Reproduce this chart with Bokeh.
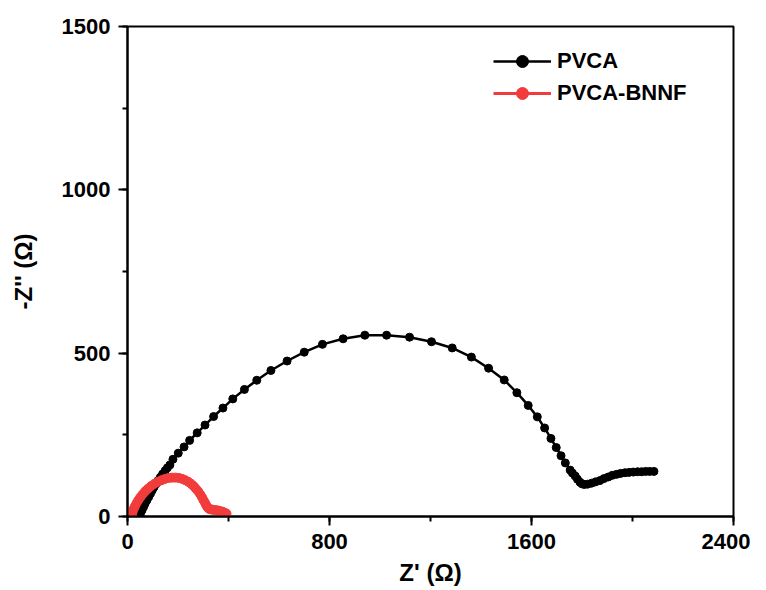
from bokeh.plotting import figure
from bokeh.models import Range1d, SingleIntervalTicker, Legend, LegendItem
from bokeh.embed import file_html
from bokeh.resources import INLINE

# PVCA (black)
pvca_x = [45, 52, 58, 64, 70, 77, 84, 91, 98, 105, 113, 121, 130, 139, 149, 158, 168, 180,
          201, 224, 246, 276, 307, 341, 378, 417, 463, 512, 568, 632, 700, 772, 854, 940,
          1026, 1117, 1204, 1286, 1362, 1430, 1492, 1542, 1587, 1623, 1652, 1677, 1698, 1717,
          1734, 1753, 1762, 1773, 1782, 1792, 1800, 1809, 1822, 1838, 1854, 1871, 1887, 1904,
          1920, 1937, 1953, 1970, 1986, 2003, 2020, 2036, 2052, 2068, 2085]
pvca_y = [0, 10, 20, 30, 40, 50, 60, 70, 80, 90, 100, 110, 120, 130, 140, 149, 158, 175,
          194, 213, 233, 256, 280, 306, 332, 360, 389, 417, 447, 476, 503, 527, 544, 555,
          555, 549, 535, 516, 488, 454, 418, 379, 340, 305, 271, 239, 211, 186,
          164, 142, 133, 124, 114, 105, 100, 98, 99, 102, 106, 110, 116, 121,
          126, 129, 132, 134, 135, 136, 137, 137, 138, 138, 138]

# PVCA-BNNF (red)
bnnf_x = [16, 18, 21, 25, 30, 36, 43, 51, 60, 70, 81, 93, 106, 120, 134, 148, 162, 176, 190,
          204, 217, 229, 241, 252, 262, 271, 280, 288, 295, 301, 307, 312, 317, 322, 328, 336,
          345, 355, 365, 375, 384, 392]
bnnf_y = [0, 8, 16, 24, 32, 41, 50, 59, 68, 77, 85, 93, 100, 106, 111, 115, 118, 119, 119,
          118, 115, 111, 106, 100, 93, 85, 77, 68, 59, 50, 42, 34, 28, 24, 22, 21,
          20, 19, 17, 15, 12, 9]

series_names = ["PVCA", "PVCA-BNNF"]
x_ticks = [0, 800, 1600, 2400]
y_ticks = [0, 500, 1000, 1500]

RED = "#F23C3C"
FONT = "Liberation Sans"

p = figure(width=750, height=588, output_backend="svg", toolbar_location=None,
           x_range=Range1d(x_ticks[0], x_ticks[-1]), y_range=Range1d(y_ticks[0], y_ticks[-1]),
           min_border_left=127, min_border_right=17, min_border_top=26, min_border_bottom=72)
p.grid.visible = False
p.outline_line_color = "black"
p.outline_line_width = 2
p.background_fill_color = "white"
p.border_fill_color = "white"

l1 = p.line(pvca_x, pvca_y, line_color="black", line_width=2.5)
c1 = p.scatter(pvca_x, pvca_y, size=8, color="black")
l2 = p.line(bnnf_x, bnnf_y, line_color=RED, line_width=3)
c2 = p.scatter(bnnf_x, bnnf_y, size=9, color=RED)

p.xaxis.ticker = SingleIntervalTicker(interval=800, num_minor_ticks=2)
p.yaxis.ticker = SingleIntervalTicker(interval=500, num_minor_ticks=2)
p.xaxis.axis_label = "Z' (Ω)"
p.yaxis.axis_label = "-Z'' (Ω)"

for ax in (p.xaxis, p.yaxis):
    ax.axis_line_width = 2
    ax.axis_line_color = "black"
    ax.major_tick_line_width = 2
    ax.minor_tick_line_width = 2
    ax.major_tick_in = 0
    ax.major_tick_out = 9
    ax.minor_tick_in = 0
    ax.minor_tick_out = 5
    ax.major_label_text_font = FONT
    ax.major_label_text_font_size = "22px"
    ax.major_label_text_font_style = "bold"
    ax.major_label_text_color = "black"
    ax.major_label_standoff = 8
    ax.axis_label_text_font = FONT
    ax.axis_label_text_font_size = "24px"
    ax.axis_label_text_font_style = "bold"
    ax.axis_label_text_color = "black"
p.xaxis.axis_label_standoff = 7
p.yaxis.axis_label_standoff = 22

legend = Legend(items=[LegendItem(label=series_names[0], renderers=[l1, c1]),
                       LegendItem(label=series_names[1], renderers=[l2, c2])],
                location=(366, 408), border_line_color=None, background_fill_alpha=0,
                padding=0, margin=0, spacing=2, glyph_width=58, glyph_height=30,
                label_height=30, label_standoff=6, label_text_font=FONT,
                label_text_color="black",
                label_text_font_size="22px", label_text_font_style="bold")
p.add_layout(legend)

open("out.html", "w").write(file_html(p, INLINE))
